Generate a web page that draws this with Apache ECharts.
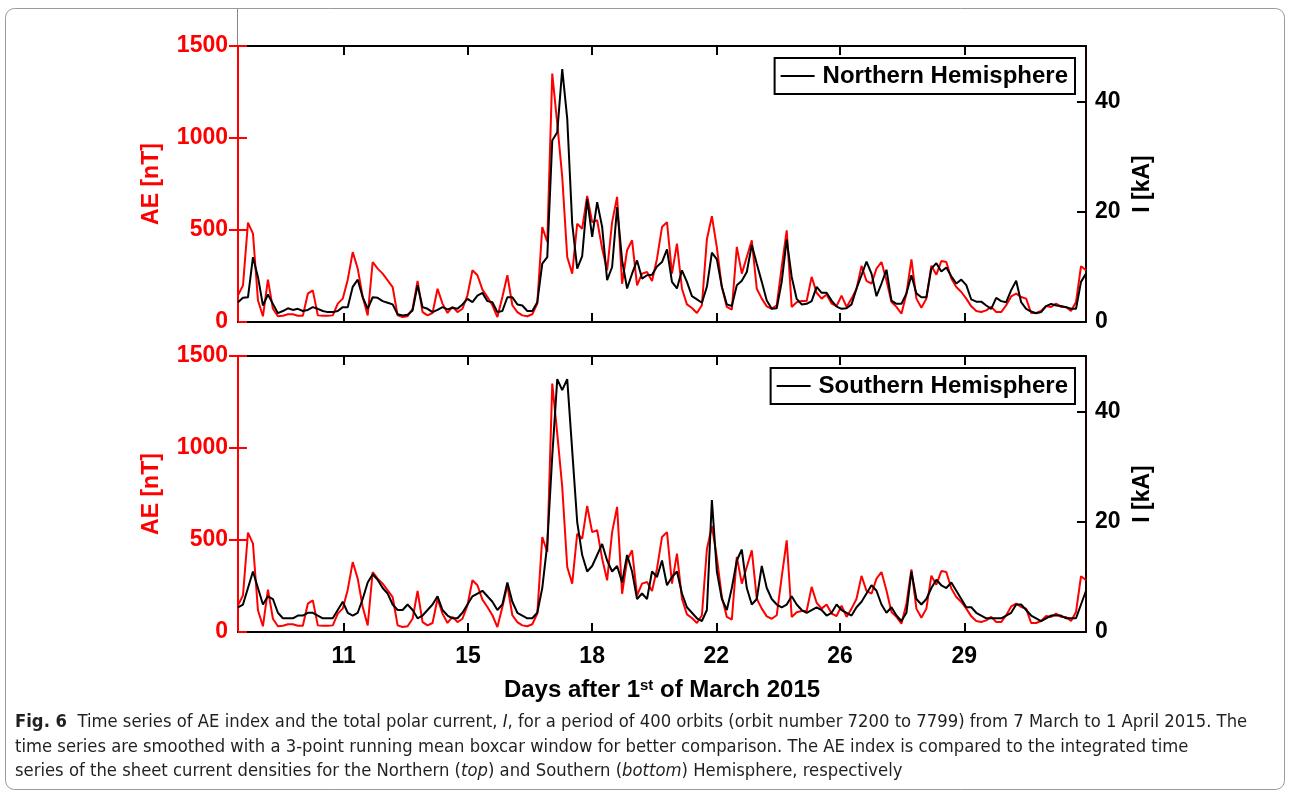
<!DOCTYPE html>
<html>
<head>
<meta charset="utf-8">
<script src="https://cdn.jsdelivr.net/npm/echarts@6/dist/echarts.min.js"></script>
<style>
html,body{margin:0;padding:0;background:#fff;}
#c{width:1290px;height:795px;}
</style>
</head>
<body>
<div id="c"></div>
<script>
// ---- data (sample index along the 400-orbit period) ----
const tickPos = [21.2, 46.1, 71.0, 95.9, 120.7, 145.6];
const dayLabels = ['11', '15', '18', '22', '26', '29'];
const aeTicks = [0, 500, 1000, 1500];
const iTicks = [0, 20, 40];

const aeIndex = [
145, 199, 540, 480, 118, 31, 230, 72, 31, 34,
42, 42, 34, 34, 154, 172, 36, 34, 34, 36,
100, 127, 230, 380, 290, 136, 36, 326, 290, 263,
226, 190, 36, 27, 31, 72, 223, 54, 36, 49,
181, 100, 49, 82, 54, 72, 145, 281, 254, 176,
136, 91, 27, 136, 254, 91, 54, 36, 31, 42,
100, 516, 435, 1350, 1078, 788, 353, 263, 534, 507,
685, 543, 553, 399, 281, 543, 680, 208, 390, 444,
199, 263, 272, 223, 344,
516, 543, 263, 426, 181, 96, 76, 49, 91, 450,
575, 404, 190, 82, 67, 408, 263, 353, 444, 181,
127, 85, 72, 91, 299, 498, 82, 107, 114, 114,
245, 159, 127, 150, 100, 87, 143, 82, 127, 181,
305, 223, 208, 290, 326, 225, 109, 82, 45, 154,
340, 127, 78, 127, 306, 257, 331, 326, 236, 190,
163, 127, 85, 60, 54, 63, 82, 54, 54, 91,
139, 154, 136, 127, 49, 49, 60, 87, 82, 100,
82, 82, 60, 109, 303, 281
];

const currentNorth = [
3.6, 4.4, 4.5, 11.8, 8.2, 3.0, 5.0, 3.3, 1.6, 2.0,
2.5, 2.2, 2.4, 2.0, 2.2, 2.7, 2.4, 2.0, 1.8, 1.8,
2.0, 2.7, 2.7, 6.4, 7.7, 4.5, 2.4, 4.5, 4.4, 3.8,
3.5, 3.2, 1.4, 1.2, 1.3, 2.1, 6.7, 2.7, 2.4, 1.8,
2.2, 2.7, 2.3, 2.6, 2.4, 3.2, 4.2, 3.6, 4.8, 5.3,
3.8, 3.6, 1.8, 2.0, 4.5, 4.5, 3.2, 3.0, 2.0, 2.0,
3.6, 10.6, 11.8, 33, 34.5, 46, 37, 17.9, 9.7, 12.0,
22.4, 15.5, 21.8, 17.3, 7.6, 10.0, 20.9, 11.2, 6.1, 8.8,
11.2, 7.9, 8.5, 8.6, 10.1,
10.9, 13.2, 7.3, 6.1, 9.4, 7.3, 4.7, 4.1, 3.5, 6.4,
12.6, 11.4, 6.4, 3.2, 2.9, 6.7, 7.5, 9.1, 14.0, 10.6,
7.3, 3.9, 2.4, 2.5, 7.3, 15.0, 8.2, 4.2, 3.2, 3.3,
3.8, 6.4, 5.3, 5.3, 3.9, 2.8, 2.4, 2.5, 3.2, 6.1,
8.5, 11.0, 8.8, 4.7, 7.0, 9.5, 3.9, 3.3, 3.3, 5.2,
8.5, 5.2, 4.5, 4.5, 9.7, 10.7, 9.2, 9.9, 8.3, 7.0,
7.7, 6.7, 4.1, 3.7, 3.7, 3.0, 2.4, 4.4, 3.8, 3.6,
5.8, 7.5, 3.6, 2.4, 1.9, 1.6, 1.8, 2.9, 3.3, 3.0,
2.9, 2.7, 2.4, 2.4, 7.3, 8.8
];

const currentSouth = [
4.5, 5, 8, 11, 8, 5, 6.5, 6, 3.5, 2.5,
2.5, 2.5, 3, 3, 3.5, 3.5, 3, 2.5, 2.5, 2.5,
4, 5.5, 3.5, 3, 3.5, 6, 9, 10.5, 9.5, 8,
7, 5, 4, 4, 5, 4, 2.5, 3, 4, 5,
6.5, 4, 3, 2.5, 2.5, 3.5, 5, 6.5, 7, 7.5,
6.5, 5.5, 4, 5, 9, 5.5, 3.5, 3, 2.5, 2.5,
3.5, 8, 16, 32, 46, 44, 46, 33, 20, 14,
11, 12, 14, 16, 13, 11, 12, 9, 14, 11,
6, 7, 6, 11, 10, 13, 8.5, 10, 11, 7,
4.5, 3.5, 2.5, 2, 4, 24, 11, 6, 4, 8,
13, 15, 8, 5, 6, 12, 8, 6, 5, 4.5,
5, 6.5, 5, 4, 3.5, 4, 4.5, 4, 3, 3.5,
5, 4, 3.5, 3, 4.5, 5.5, 7, 8.5, 7.5, 5,
3.5, 4.5, 3, 2, 3.5, 11, 6, 5, 6, 8,
9.5, 8.5, 8, 9, 7.5, 6, 4.5, 4.5, 3.5, 3,
2.5, 2.5, 2.5, 2.5, 3, 3.5, 5, 5, 4, 3,
2.5, 2, 2.5, 3, 3, 3, 2.5, 2.5, 2.5, 5,
7.5
];

// ---- chart ----
const FONT = "'Liberation Sans', Arial, Helvetica, sans-serif";
const RED = '#ff0000';
const nSamples = aeIndex.length - 1;

const toXY = arr => arr.map((v, i) => [i, v]);
const plain = v => String(v);

function xAxes(grid, withLabels, withName) {
  const bottom = {
    type: 'value', gridIndex: grid, position: 'bottom', min: 0, max: nSamples,
    axisLine: { show: true, onZero: false, lineStyle: { color: '#000', width: 2 } },
    axisTick: { show: true, inside: true, length: 9, customValues: tickPos, lineStyle: { color: '#000', width: 2 } },
    axisLabel: {
      show: withLabels, customValues: tickPos, margin: 13,
      color: '#000', fontSize: 23, fontWeight: 'bold', fontFamily: FONT,
      formatter: v => {
        const k = tickPos.findIndex(t => Math.abs(t - v) < 1e-6);
        return k >= 0 ? dayLabels[k] : '';
      }
    },
    splitLine: { show: false }
  };
  if (withName) {
    bottom.name = 'Days after 1{sup|st} of March 2015';
    bottom.nameLocation = 'middle';
    bottom.nameGap = 46;
    bottom.nameTextStyle = {
      color: '#000', fontSize: 24, fontWeight: 'bold', fontFamily: FONT,
      rich: { sup: { fontSize: 15, fontWeight: 'bold', fontFamily: FONT, color: '#000', verticalAlign: 'top', lineHeight: 24 } }
    };
  }
  const top = {
    type: 'value', gridIndex: grid, position: 'top', min: 0, max: nSamples,
    axisLine: { show: true, onZero: false, lineStyle: { color: '#000', width: 2 } },
    axisTick: { show: true, inside: true, length: 9, customValues: tickPos, lineStyle: { color: '#000', width: 2 } },
    axisLabel: { show: false },
    splitLine: { show: false }
  };
  return [bottom, top];
}

function yAxes(grid) {
  return [
    {
      type: 'value', gridIndex: grid, position: 'left', min: 0, max: 1500, interval: 500,
      name: 'AE [nT]', nameLocation: 'middle', nameRotate: 90, nameGap: 75,
      nameTextStyle: { color: RED, fontSize: 23, fontWeight: 'bold', fontFamily: FONT },
      axisLine: { show: true, onZero: false, lineStyle: { color: RED, width: 2 } },
      axisTick: { show: true, inside: true, length: 9, lineStyle: { color: RED, width: 2 } },
      axisLabel: { color: RED, fontSize: 23, fontWeight: 'bold', fontFamily: FONT, margin: 10, formatter: plain },
      splitLine: { show: false }
    },
    {
      type: 'value', gridIndex: grid, position: 'right', min: 0, max: 50.2,
      name: 'I [kA]', nameLocation: 'middle', nameRotate: 90, nameGap: 42,
      nameTextStyle: { color: '#000', fontSize: 23, fontWeight: 'bold', fontFamily: FONT },
      axisLine: { show: true, onZero: false, lineStyle: { color: '#1a0000', width: 2 } },
      axisTick: { show: true, inside: true, length: 9, customValues: iTicks, lineStyle: { color: '#000', width: 2 } },
      axisLabel: { customValues: iTicks, color: '#000', fontSize: 23, fontWeight: 'bold', fontFamily: FONT, margin: 9, formatter: plain },
      splitLine: { show: false }
    },
    {
      type: 'value', gridIndex: grid, position: 'right', min: 0, max: 1500, interval: 500,
      axisLine: { show: false },
      axisTick: { show: true, inside: true, length: 9, customValues: aeTicks.slice(1), lineStyle: { color: RED, width: 2 } },
      axisLabel: { show: false },
      splitLine: { show: false }
    }
  ];
}

function legendFor(name, top) {
  return {
    data: [name], right: 215, top: top, orient: 'horizontal',
    backgroundColor: '#fff', borderColor: '#000', borderWidth: 2,
    padding: [6, 7, 6, 6], itemWidth: 34, itemHeight: 2, itemGap: 0,
    icon: 'rect', selectedMode: false,
    itemStyle: { color: '#000' },
    textStyle: { color: '#000', fontSize: 24, fontWeight: 'bold', fontFamily: FONT, padding: [0, 0, 0, 3] }
  };
}

const lineBase = { type: 'line', symbol: 'none', showSymbol: false, smooth: false, animation: false };

const capFont = "'DejaVu Sans Condensed', 'Liberation Sans', sans-serif";
const capRich = {
  b: { fontWeight: 'bold', fontSize: 18, fontFamily: capFont, color: '#231f20' },
  i: { fontStyle: 'italic', fontSize: 18, fontFamily: capFont, color: '#231f20' }
};
const captionLines = [
  '{b|Fig. 6}  Time series of AE index and the total polar current, {i|I}, for a period of 400 orbits (orbit number 7200 to 7799) from 7 March to 1 April 2015. The',
  'time series are smoothed with a 3-point running mean boxcar window for better comparison. The AE index is compared to the integrated time',
  'series of the sheet current densities for the Northern ({i|top}) and Southern ({i|bottom}) Hemisphere, respectively'
];
const captionY = [722, 747, 771];

const option = {
  animation: false,
  backgroundColor: '#fff',
  grid: [
    { left: 238, right: 204, top: 46, height: 276 },
    { left: 238, right: 204, top: 356, height: 276 }
  ],
  xAxis: [...xAxes(0, false, false), ...xAxes(1, true, true)],
  yAxis: [...yAxes(0), ...yAxes(1)],
  legend: [legendFor('Northern Hemisphere', 58), legendFor('Southern Hemisphere', 368)],
  series: [
    Object.assign({}, lineBase, { name: 'AE', xAxisIndex: 0, yAxisIndex: 0, z: 2, data: toXY(aeIndex), lineStyle: { color: RED, width: 2 }, itemStyle: { color: RED } }),
    Object.assign({}, lineBase, { name: 'Northern Hemisphere', xAxisIndex: 0, yAxisIndex: 1, z: 3, data: toXY(currentNorth), lineStyle: { color: '#000', width: 2 }, itemStyle: { color: '#000' } }),
    Object.assign({}, lineBase, { name: 'AE', xAxisIndex: 2, yAxisIndex: 3, z: 2, data: toXY(aeIndex), lineStyle: { color: RED, width: 2 }, itemStyle: { color: RED } }),
    Object.assign({}, lineBase, { name: 'Southern Hemisphere', xAxisIndex: 2, yAxisIndex: 4, z: 3, data: toXY(currentSouth), lineStyle: { color: '#000', width: 2 }, itemStyle: { color: '#000' } })
  ],
  graphic: [
    { type: 'rect', silent: true, z: -1, shape: { x: 5.5, y: 8.5, width: 1279, height: 781, r: 9 }, style: { fill: 'none', stroke: '#9a9a9a', lineWidth: 1 } },
    { type: 'line', silent: true, shape: { x1: 237.5, y1: 9, x2: 237.5, y2: 46 }, style: { stroke: '#888', lineWidth: 1 } },
    ...captionLines.map((t, k) => ({
      type: 'text', silent: true, x: 15, y: captionY[k], scaleX: 1.015,
      style: { text: t, rich: capRich, fontSize: 18, fontFamily: capFont, fill: '#231f20', verticalAlign: 'middle', align: 'left' }
    }))
  ]
};

const chart = echarts.init(document.getElementById('c'), null, { renderer: 'canvas' });
chart.setOption(option);
</script>
</body>
</html>
